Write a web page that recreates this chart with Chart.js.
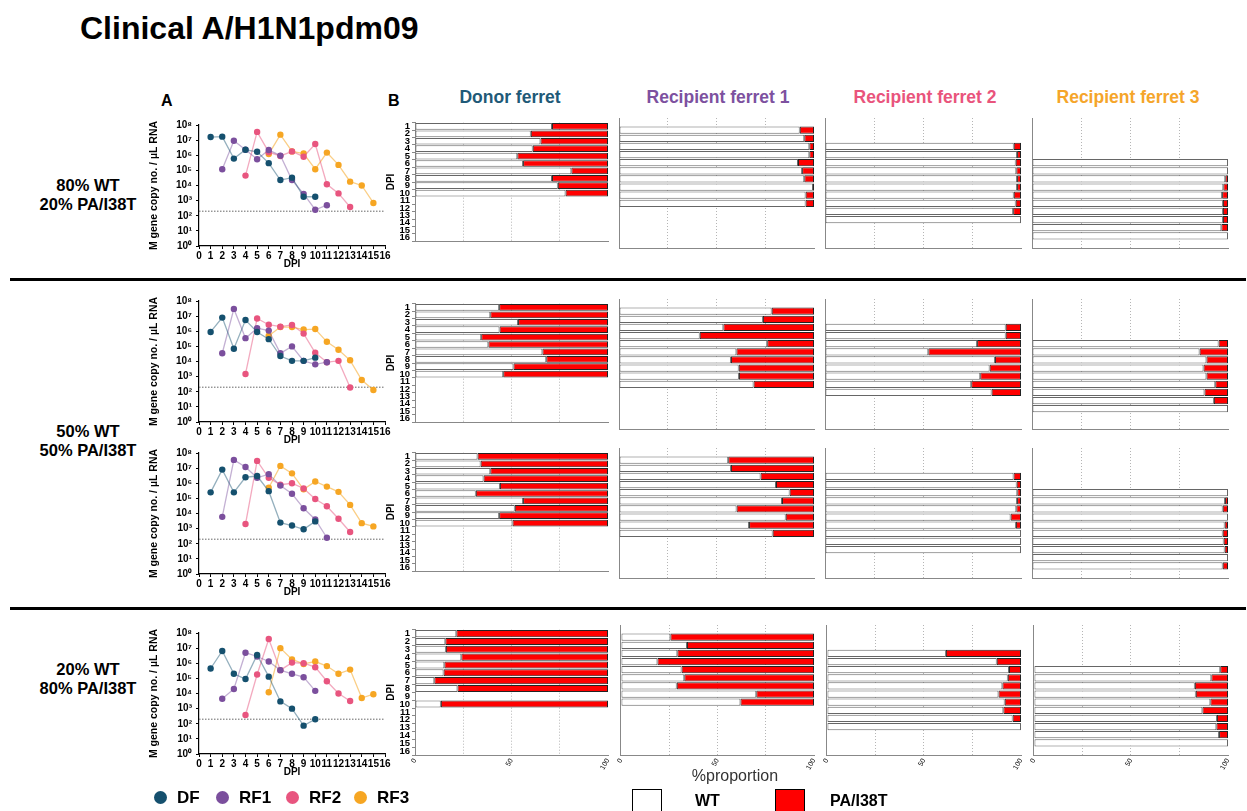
<!DOCTYPE html>
<html><head><meta charset="utf-8">
<script src="https://cdn.jsdelivr.net/npm/chart.js@4.4.1/dist/chart.umd.min.js"></script>
<style>
body{margin:0;width:1247px;height:811px;overflow:hidden;background:#fff;font-family:"Liberation Sans",Arial,sans-serif;position:relative}
canvas{position:absolute}
.t{position:absolute;white-space:nowrap;font-weight:bold;line-height:1}
.c{transform:translate(-50%,-50%);text-align:center}
.v{transform:translate(0,-50%)}
</style></head><body>
<script>
// ---------------- DATA ----------------
const dpiLabels = ['1','2','3','4','5','6','7','8','9','10','11','12','13','14','15','16'];
const logTicks = [1,10,100,1e3,1e4,1e5,1e6,1e7,1e8];
const detectionLimit = 200;
const seriesNames = ['DF','RF1','RF2','RF3'];
const columnTitles = ['Donor ferret','Recipient ferret 1','Recipient ferret 2','Recipient ferret 3'];
const rowLabels = [['80% WT','20% PA/I38T'],['50% WT','50% PA/I38T'],['20% WT','80% PA/I38T']];

// DPI sampled per ferret (line charts)
const dpiDF  = [1,2,3,4,5,6,7,8,9,10];
const dpiRF1 = [2,3,4,5,6,7,8,9,10,11];
const dpiRF1r4 = [2,3,4,5,6,7,8,9,10];
const dpiRF2 = [4,5,6,7,8,9,10,11,12,13];
const dpiRF3 = [6,7,8,9,10,11,12,13,14,15];

// M gene copy no./uL RNA
const r1DF  = [1.6e7,1.7e7,6e5,2.3e6,1.7e6,3e5,2.3e4,3.3e4,1.8e3,1.8e3];
const r1RF1 = [1.2e5,9e6,2.3e6,5.5e5,2.2e6,9.5e5,2.3e4,2.8e3,2.5e2,5e2];
const r1RF2 = [4.5e4,3.5e7,1.6e6,9e5,1.8e6,8e5,5.5e6,1.2e4,3e3,3.8e2];
const r1RF3 = [1.2e6,2.3e7,1.8e6,1.3e6,1.2e5,1.5e6,2.3e5,1.8e4,1e4,7e2];

const r2DF  = [9e5,8e6,7e4,5.5e6,9e5,3e5,2.3e4,1.1e4,1.1e4,1.8e4];
const r2RF1 = [3.5e4,3e7,3.5e5,1.6e6,1.1e6,3.5e4,1e5,1.1e4,6.5e3,9e3];
const r2RF2 = [1.5e3,7e6,2.7e6,2e6,2.6e6,7e5,3.8e4,9e3,1.1e4,1.9e2];
const r2RF3 = [5e5,1.9e6,1.9e6,1.3e6,1.4e6,2e5,6e4,1.2e4,6e2,1.3e2];

const r3DF  = [2.5e5,8e6,2.5e5,2.5e6,3e6,3e5,2.5e3,1.6e3,9e2,3e3];
const r3RF1 = [6e3,3.5e7,1.2e7,2.3e6,4e6,7e5,2e5,2.2e4,4e3,2.5e2];
const r3RF2 = [2e3,3e7,2.3e6,8e5,1e6,4.5e5,9e4,3e4,4.5e3,6e2];
const r3RF3 = [5e5,1.4e7,4.5e6,4e5,1.3e6,6e5,2.7e5,3.7e4,2.3e3,1.4e3];

const r4DF  = [4.5e5,6.5e6,2e5,9e4,3.5e6,1.3e5,3e3,1e3,7.5e1,2e2];
const r4RF1 = [4.5e3,2e4,5e6,2.8e6,1.3e6,3.5e5,2e5,1.2e5,1.5e4];
const r4RF2 = [3.8e2,1.8e5,4e7,3.5e5,1.1e6,1e6,5.5e5,6.5e4,1e4,3.2e3];
const r4RF3 = [1.2e4,1e7,1.8e6,9e5,1.3e6,6.5e5,2e5,3.8e5,5e3,9e3];

// %WT per DPI 1..16 (null = not sequenced); PA/I38T = remainder
const n = null;
const wt1DF  = [71,60,65,61,53,56,81,71,74,78,n,n,n,n,n,n];
const wt1RF1 = [n,92.7,95,97.6,97.6,91.8,93.9,95,99.5,95.7,95.7,n,n,n,n,n];
const wt1RF2 = [n,n,n,96.3,98,97.3,97.6,98,98,96.3,97.3,96,100,n,n,n];
const wt1RF3 = [n,n,n,n,n,100,100,98.6,97.6,97,97.4,97.4,97.4,96.6,100,n];

const wt2DF  = [43.6,39,53.4,43.8,34.3,38,66,68,51,45.7,n,n,n,n,n,n];
const wt2RF1 = [n,78.3,73.8,53.5,41.4,76,60.2,57.4,61.4,61.5,69,n,n,n,n,n];
const wt2RF2 = [n,n,n,92.2,92.2,77.6,52.7,86.7,84,79.2,74.6,85,n,n,n,n];
const wt2RF3 = [n,n,n,n,n,95.2,85.5,89,87.5,89,93.5,88,92.8,100,n,n];

const wt3DF  = [32.4,34,39,35.5,44,31.5,56,51.7,43.6,50.5,n,n,n,n,n,n];
const wt3RF1 = [n,56,57.4,72.6,80.5,87.5,83.6,60.3,85.5,66.7,78.8,n,n,n,n,n];
const wt3RF2 = [n,n,n,96.2,97.8,98.1,98,97.6,94.7,97.4,100,100,100,n,n,n];
const wt3RF3 = [n,n,n,n,n,100,98.5,97.3,100,98.3,97.3,97.8,98.3,100,97.3,n];

const wt4DF  = [21.4,15.7,16,24,15.2,14.8,10,22,n,13.4,n,n,n,n,n,n];
const wt4RF1 = [n,25.6,34.2,29.2,18.9,31.4,32.8,28.9,70.1,61.9,n,n,n,n,n,n];
const wt4RF2 = [n,n,n,61.3,87.5,93.8,93.2,90.4,88.4,91.6,90.9,95.7,100,n,n,n];
const wt4RF3 = [n,n,n,n,n,96,91.4,82.9,83.4,90.9,86.8,94.3,94,95.4,100,n];

// ---------------- STYLE ----------------
const pointColors = ['#15506e','#7b4f9d','#e8557f','#f6a623'];
const lineColors  = ['rgba(21,80,110,0.45)','rgba(123,79,157,0.45)','rgba(232,85,127,0.5)','rgba(246,166,35,0.55)'];
const titleColors = ['#1f5a78','#7d519f','#e9547c','#f5a52a'];
const SUP = ['\u2070','\u00b9','\u00b2','\u00b3','\u2074','\u2075','\u2076','\u2077','\u2078'];
const FONT = '"Liberation Sans", Arial, sans-serif';
Chart.defaults.font.family = FONT;

function addText(txt, x, y, css, cls){
  const d=document.createElement('div');
  d.className='t '+(cls||'');
  d.textContent=txt; d.style.left=x+'px'; d.style.top=y+'px';
  if(css) Object.assign(d.style, css);
  document.body.appendChild(d); return d;
}
function mkCanvas(l,t,w,h){
  const c=document.createElement('canvas');
  c.width=w; c.height=h; c.style.left=l+'px'; c.style.top=t+'px';
  c.style.width=w+'px'; c.style.height=h+'px';
  document.body.appendChild(c); return c;
}

function lineChart(top8, dpis, vals){
  const padTop=8, plotH=123, xH=24;
  const c = mkCanvas(148, top8-padTop, 247, padTop+plotH+xH);
  const datasets = vals.map((v,k)=>({
    label: seriesNames[k],
    data: dpis[k].map((d,i)=>({x:d,y:v[i]})),
    borderColor: lineColors[k], borderWidth:1.3,
    pointBackgroundColor: pointColors[k], pointBorderColor: pointColors[k],
    pointRadius:3.2, pointBorderWidth:0, tension:0
  }));
  datasets.push({label:'LOD', data:[{x:0,y:detectionLimit},{x:16,y:detectionLimit}],
    borderColor:'#666', borderWidth:1, borderDash:[1.5,1.5], pointRadius:0});
  new Chart(c,{type:'line', data:{datasets},
    options:{responsive:false, animation:false, devicePixelRatio:1,
      layout:{padding:{top:padTop,right:10,left:0,bottom:0}},
      plugins:{legend:{display:false},tooltip:{enabled:false}},
      scales:{
        x:{type:'linear',min:0,max:16,
          ticks:{stepSize:1,autoSkip:false,maxRotation:0,minRotation:0,font:{size:10,weight:'bold'},color:'#000',padding:1},
          grid:{drawOnChartArea:false,tickLength:3,color:'#000'},
          border:{color:'#000',width:1.2},
          title:{display:true,text:'DPI',font:{size:10,weight:'bold'},color:'#000',padding:{top:0,bottom:0}},
          afterFit:s=>{s.height=xH;}},
        y:{type:'logarithmic',min:1,max:1e8,
          afterBuildTicks:s=>{s.ticks=logTicks.map(v=>({value:v}));},
          ticks:{callback:v=>'10'+SUP[Math.round(Math.log10(v))],font:{size:10,weight:'bold'},color:'#000',padding:4},
          grid:{drawOnChartArea:false,tickLength:3,color:'#000'},
          border:{color:'#000',width:1.2},
          title:{display:true,text:'M gene copy no. / \u00b5L RNA',font:{size:10.5,weight:'bold'},color:'#000',padding:{top:0,bottom:2}},
          afterFit:s=>{s.width=51;}}
      }}});
}

function barChart(plotLeft, plotW, plotTop, wt, showY, showX){
  const plotH=130, padT=3, xH=showX?22:0, yW=showY?30:0, padL=showY?0:2, padR=showX?14:6;
  const c = mkCanvas(plotLeft-yW-padL, plotTop-padT, yW+padL+plotW+padR, padT+plotH+xH+1);
  new Chart(c,{type:'bar',
    data:{labels:dpiLabels, datasets:[
      {label:'WT', data:wt, backgroundColor:'#ffffff', borderColor:'#666', borderWidth:1, borderSkipped:false, barPercentage:0.9, categoryPercentage:1},
      {label:'PA/I38T', data:wt.map(v=>v==null?null:100-v), backgroundColor:'#ff0000', borderColor:'#222', borderWidth:1, borderSkipped:false, barPercentage:0.9, categoryPercentage:1}
    ]},
    options:{indexAxis:'y', responsive:false, animation:false, devicePixelRatio:1,
      layout:{padding:{top:padT,left:padL,right:padR,bottom:1}},
      plugins:{legend:{display:false},tooltip:{enabled:false}},
      scales:{
        x:{type:'linear',stacked:true,min:0,max:100,
          ticks:{display:showX,stepSize:25,autoSkip:false,minRotation:60,maxRotation:60,
            callback:v=>(v%50===0?String(v):''),font:{size:7},color:'#000',padding:2},
          grid:{color:ctx=>{const v=ctx.tick&&ctx.tick.value;return (v===25||v===50||v===75)?'#b5b5b5':'rgba(0,0,0,0)';},
            lineWidth:1, drawTicks:false},
          border:{color:'#888',width:1,dash:[1,2]},
          afterFit:s=>{s.height=xH;}},
        y:{type:'category',stacked:true,
          ticks:{display:showY,font:{size:9.5,weight:'bold'},color:'#000',padding:2,autoSkip:false},
          grid:{display:showY,drawOnChartArea:false,tickLength:3,color:'#888'},
          border:{display:true,color:'#888',width:1},
          title:{display:showY,text:'DPI',font:{size:10,weight:'bold'},color:'#000',padding:{top:0,bottom:0}},
          afterFit:s=>{s.width=yW;}}
      }}});
}

// ---------------- LAYOUT ----------------
addText('Clinical A/H1N1pdm09', 80, 12, {fontSize:'32px'});
addText('A', 161, 93, {fontSize:'16px'});
addText('B', 388, 93, {fontSize:'16px'});
const colCenters=[510,718,925,1128];
columnTitles.forEach((t,i)=>addText(t, colCenters[i], 98, {fontSize:'17.5px',color:titleColors[i]}, 'c'));
const rowLabelY=[[185,204],[431,450],[669,688]];
rowLabels.forEach((r,i)=>{ addText(r[0],88,rowLabelY[i][0],{fontSize:'16.5px'},'c'); addText(r[1],88,rowLabelY[i][1],{fontSize:'16.5px'},'c'); });

// separators
[279,608].forEach(y=>{const d=document.createElement('div');
  Object.assign(d.style,{position:'absolute',left:'10px',width:'1236px',top:(y-1)+'px',height:'2.5px',background:'#000'});
  document.body.appendChild(d);});

// line charts
const std=[dpiDF,dpiRF1,dpiRF2,dpiRF3];
lineChart(123, std, [r1DF,r1RF1,r1RF2,r1RF3]);
lineChart(299, std, [r2DF,r2RF1,r2RF2,r2RF3]);
lineChart(451, std, [r3DF,r3RF1,r3RF2,r3RF3]);
lineChart(631, [dpiDF,dpiRF1r4,dpiRF2,dpiRF3], [r4DF,r4RF1,r4RF2,r4RF3]);

// bar charts
const colLeft=[415,619,825,1032], colW=[193,195,196,196];
const rowTop=[118,299,448,625];
const wtRows=[[wt1DF,wt1RF1,wt1RF2,wt1RF3],[wt2DF,wt2RF1,wt2RF2,wt2RF3],[wt3DF,wt3RF1,wt3RF2,wt3RF3],[wt4DF,wt4RF1,wt4RF2,wt4RF3]];
wtRows.forEach((row,r)=>row.forEach((wt,cI)=>barChart(colLeft[cI],colW[cI],rowTop[r],wt,cI===0,r===3)));

addText('%proportion', 735, 776, {fontSize:'16px',fontWeight:'normal',color:'#333'}, 'c');

// legends
const legX=[160,222,292,360];
seriesNames.forEach((s,i)=>{
  const d=document.createElement('div');
  Object.assign(d.style,{position:'absolute',left:(legX[i]-6.5)+'px',top:(797-6.5)+'px',width:'13px',height:'13px',borderRadius:'50%',background:pointColors[i]});
  document.body.appendChild(d);
  addText(s, legX[i]+17, 797, {fontSize:'17px'}, 'v');
});
[[632,'#fff','WT',695],[775,'#ff0000','PA/I38T',830]].forEach(([x,bg,lab,tx])=>{
  const d=document.createElement('div');
  Object.assign(d.style,{position:'absolute',left:x+'px',top:'789px',width:'28px',height:'24px',background:bg,border:'1.5px solid #000'});
  document.body.appendChild(d);
  addText(lab, tx, 801, {fontSize:'16px'}, 'v');
});
</script>
</body></html>
